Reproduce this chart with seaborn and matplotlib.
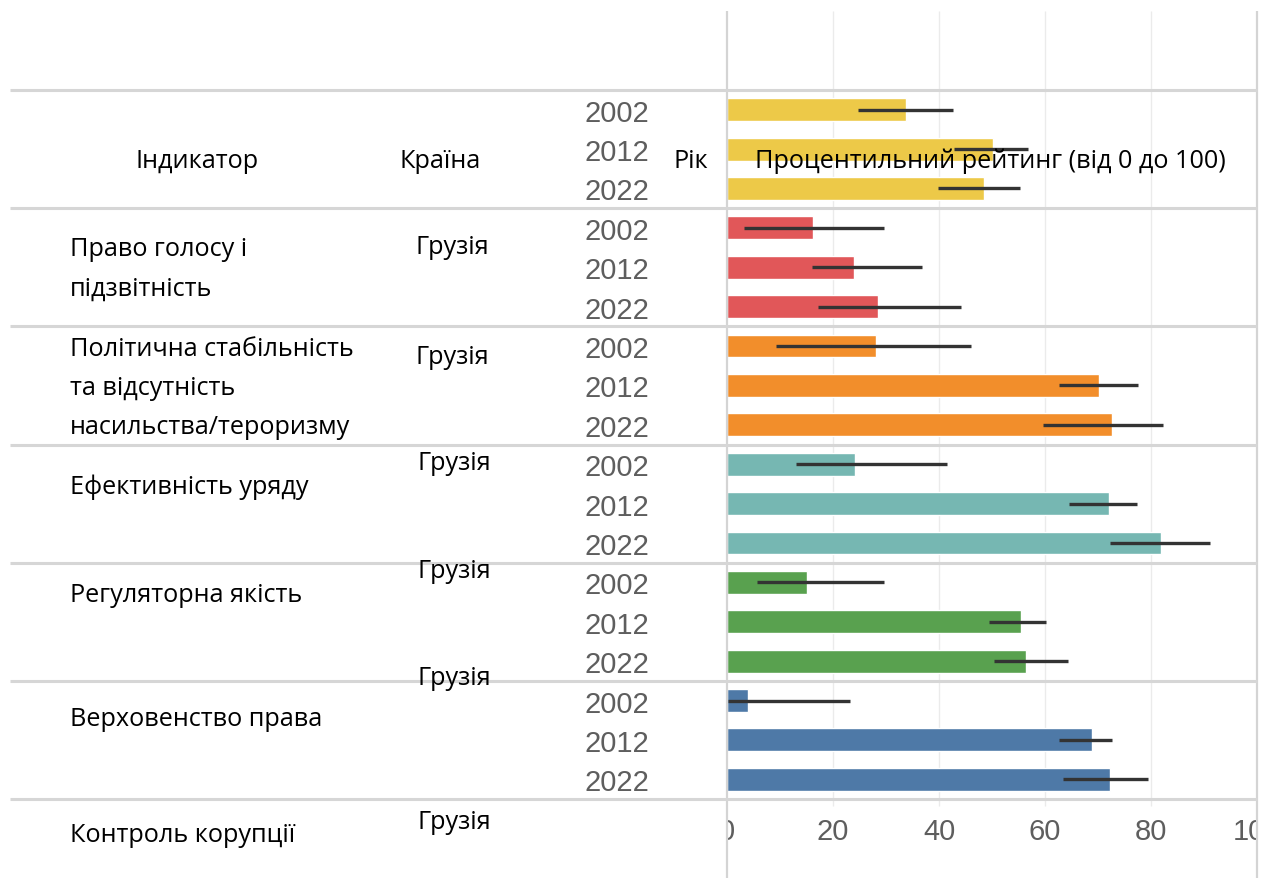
import numpy as np
import pandas as pd
import matplotlib
matplotlib.use('Agg')
import matplotlib.pyplot as plt
import matplotlib.transforms as mtrans
import seaborn as sns

# дані: процентильний рейтинг Грузії (WGI) та довірчі інтервали
indicators = ['Право голосу', 'Політична стабільність', 'Ефективність уряду',
              'Регуляторна якість', 'Верховенство права', 'Контроль корупції']
years = ['2002', '2012', '2022']
rank = [33.8, 50.1, 48.4,
        16.3, 24.0, 28.5,
        28.2, 70.2, 72.6,
        24.1, 72.1, 81.8,
        15.1, 55.4, 56.5,
        3.9, 68.8, 72.2]
ci_low = [24.7, 42.8, 39.9,
          3.3, 16.1, 17.2,
          9.3, 62.6, 59.6,
          13.0, 64.5, 72.3,
          5.6, 49.5, 50.3,
          0.1, 62.6, 63.4]
ci_high = [42.6, 56.8, 55.3,
           29.6, 36.7, 44.1,
           46.0, 77.6, 82.2,
           41.6, 77.4, 91.2,
           29.7, 60.2, 64.3,
           23.3, 72.6, 79.5]
colors = ['#EDC948', '#E15759', '#F28E2B', '#76B7B2', '#59A14F', '#4E79A7']
xticks = [0, 20, 40, 60, 80, 100]

# накладені підписи (текст)
header_texts = ['Індикатор', 'Країна', 'Рік', 'Процентильний рейтинг (від 0 до 100)']
row_texts = ['Право голосу і', 'підзвітність',
             'Політична стабільність', 'та відсутність', 'насильства/тероризму',
             'Ефективність уряду', 'Регуляторна якість', 'Верховенство права',
             'Контроль корупції']
country = 'Грузія'

# позиції підписів у пікселях (x ліворуч, y центр)
header_pos = [(135, 162), (400, 162), (673, 162), (755, 161)]
row_pos = [(70, 249), (70, 289), (70, 350), (70, 389), (70, 427),
           (70, 487), (70, 596), (70, 719), (70, 836)]
country_pos = [(415, 247), (415, 357), (418, 464), (418, 572), (418, 679), (418, 823)]

W, H = 1261, 879

df = pd.DataFrame({
    'row': [f'{ind} {y}' for ind in indicators for y in years],
    'indicator': [ind for ind in indicators for y in years],
    'year': [y for ind in indicators for y in years],
    'value': rank,
})

sns.set_style('white')
plt.rcParams['font.family'] = ['Open Sans', 'DejaVu Sans']

fig = plt.figure(figsize=(W / 100, H / 100), dpi=100)
ax_left, ax_right, ax_top, ax_bottom = 727, 1257, 91, 800
ax = fig.add_axes([ax_left / W, (H - ax_bottom) / H,
                   (ax_right - ax_left) / W, (ax_bottom - ax_top) / H])

sns.barplot(data=df, x='value', y='row', hue='indicator', order=list(df['row']),
            hue_order=indicators, palette=colors, dodge=False, width=0.58,
            errorbar=None, legend=False, orient='h', saturation=1, ax=ax)

lo = np.array(ci_low)
hi = np.array(ci_high)
val = np.array(rank)
ax.errorbar(val, np.arange(len(val)), xerr=[val - lo, hi - val], fmt='none',
            ecolor='#333333', elinewidth=2.4, capsize=0, zorder=5)

ax.set_xlim(0, 100)
ax.set_ylim(len(val) - 0.5, -0.5)
ax.set_xlabel('')
ax.set_ylabel('')
for s in ax.spines.values():
    s.set_visible(False)

ax.set_yticks(np.arange(len(val)))
ax.set_yticklabels(list(df['year']), family=['Liberation Sans', 'DejaVu Sans'],
                   fontsize=21, color='#5e5e5e')
ax.set_xticks(xticks)
ax.set_xticklabels([str(t) for t in xticks], family=['Liberation Sans', 'DejaVu Sans'],
                   fontsize=21, color='#5e5e5e')
ax.tick_params(axis='y', length=0, pad=56)
ax.tick_params(axis='x', length=0, pad=13)

# підписи осі X обрізані межами області (як на скріншоті)
clip = mtrans.TransformedBbox(mtrans.Bbox([[0, -0.3], [1, 1]]), ax.transAxes)
for t in ax.xaxis.get_major_ticks():
    t.label1.set_clip_on(True)
    t.label1.set_clip_box(clip)

# сітка
y_top = (ax_bottom - 12) / (ax_bottom - ax_top)
y_bot = (ax_bottom - 879) / (ax_bottom - ax_top)
ax.vlines(xticks[1:-1], (ax_bottom - 807) / (ax_bottom - ax_top), y_top,
          transform=ax.get_xaxis_transform(), colors='#ebebeb', lw=1, zorder=0, clip_on=False)
# вертикальні межі
ax.vlines([0, 100], y_bot, y_top, transform=ax.get_xaxis_transform(),
          colors='#d4d4d4', lw=1.6, zorder=1, clip_on=False)
# горизонтальні розділювачі груп
x_start = (10 - ax_left) / (ax_right - ax_left)
bounds = np.arange(0, len(val) + 1, len(years)) - 0.5
ax.hlines(bounds, x_start, 1, transform=ax.get_yaxis_transform(),
          colors='#d6d6d6', lw=2.2, zorder=1, clip_on=False)

txt_font = ['Open Sans', 'DejaVu Sans']
fs = 18.2
for s, (x, y) in zip(header_texts, header_pos):
    fig.text(x / W, 1 - y / H, s, fontsize=fs, color='black', ha='left', va='center',
             family=txt_font, zorder=10)
for s, (x, y) in zip(row_texts, row_pos):
    fig.text(x / W, 1 - y / H, s, fontsize=fs, color='black', ha='left', va='center',
             family=txt_font)
for (x, y) in country_pos:
    fig.text(x / W, 1 - y / H, country, fontsize=fs, color='black', ha='left', va='center',
             family=txt_font)

fig.savefig('out.png', dpi=100)
